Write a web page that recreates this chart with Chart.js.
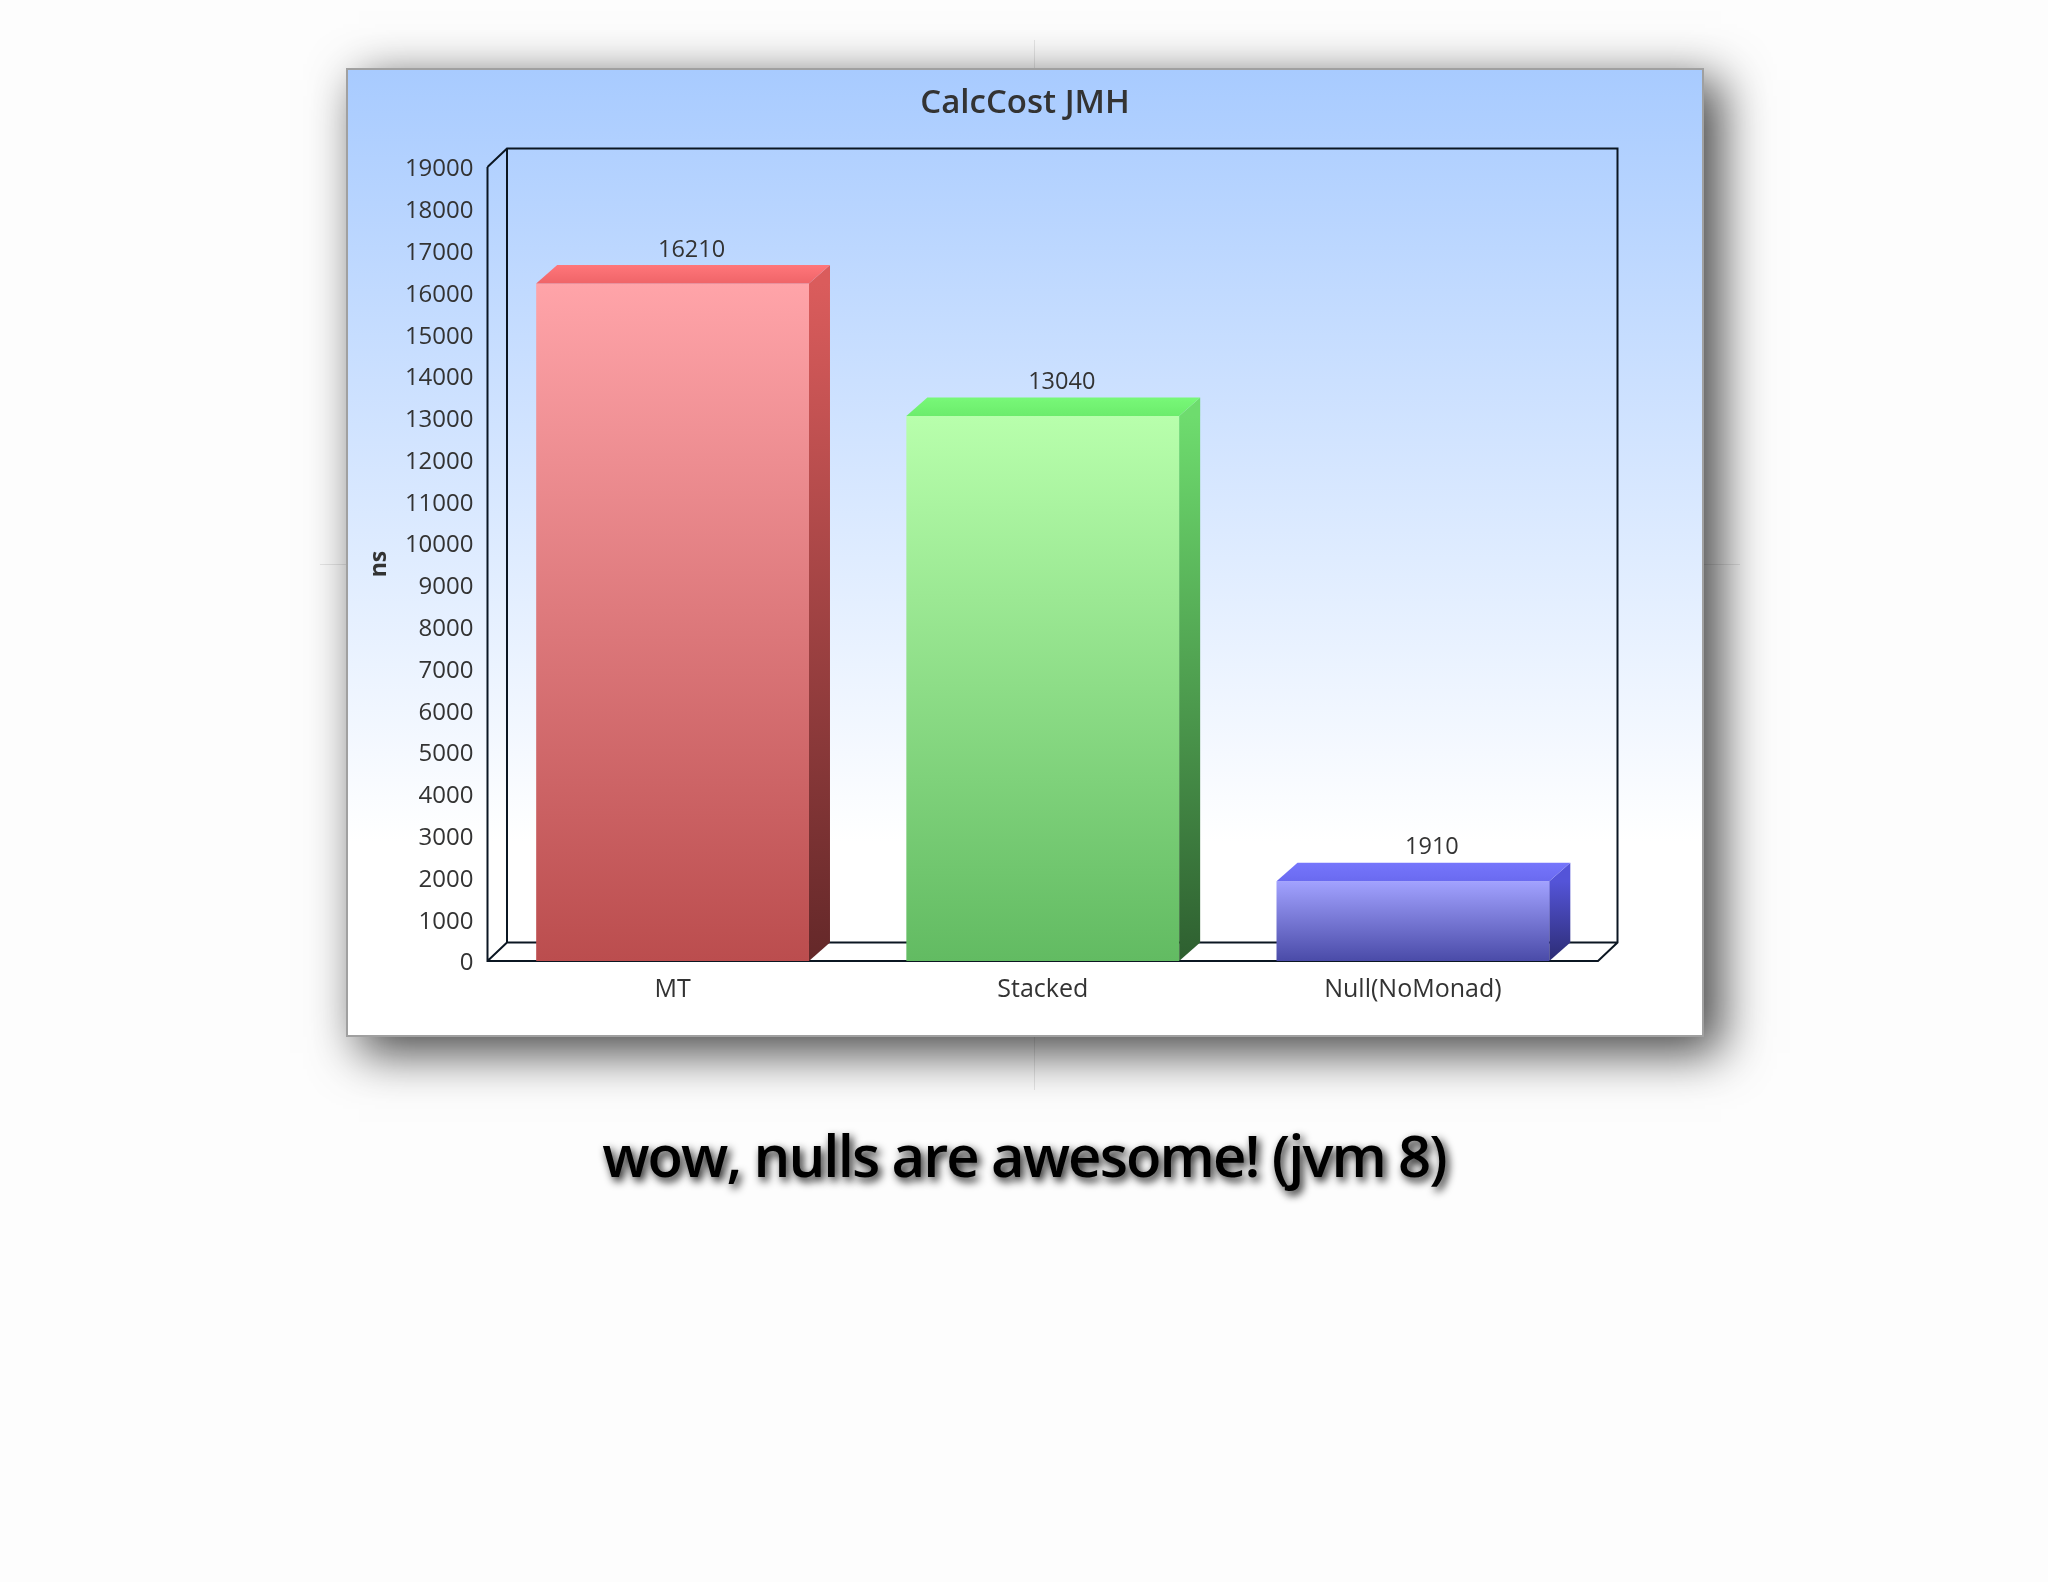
<!DOCTYPE html>
<html lang="en">
<head>
    <meta charset="UTF-8">
    <title>CalcCost JMH</title>
    <script src="https://cdn.jsdelivr.net/npm/chart.js@4.4.0/dist/chart.umd.min.js"></script>
    <style>
        html, body { margin: 0; padding: 0; background: #fdfdfd; width: 2048px; height: 1582px; overflow: hidden; }
        .hair { position: absolute; background: #e6e6e6; }
        #panel {
            position: absolute; left: 346px; top: 68px; width: 1358px; height: 969px; box-sizing: border-box;
            border: 2px solid #a0a0a0;
            background: linear-gradient(to bottom, #a8cbff 0%, #ffffff 80%, #ffffff 100%);
            box-shadow: 15px 14px 46px 2px rgba(0,0,0,.72);
        }
        #chart { position: absolute; left: 346px; top: 68px; }
        #caption {
            position: absolute; left: 0; width: 2048px; top: 1115px; text-align: center;
            font: 600 58px "Open Sans", sans-serif; color: #000; letter-spacing: -1.9px;
            text-shadow: 3px 4px 8px rgba(0,0,0,.95);
        }
    </style>
</head>
<body>
<div class="hair" style="left:1034px;top:40px;width:1px;height:1050px"></div>
<div class="hair" style="left:320px;top:564px;width:1420px;height:1px"></div>
<div id="panel"></div>
<canvas id="chart" width="1358" height="968"></canvas>
<div id="caption">wow, nulls are awesome! (jvm 8)</div>

<script>
    const categories = ['MT', 'Stacked', 'Null(NoMonad)'];
    const costs = [16210, 13040, 1910];
    const yMax = 19000;
    const yStep = 1000;

    const frontTop = ['#ffa4a9', '#b8ffac', '#a2a2ff'];
    const frontBottom = ['#bb4d4e', '#62bb62', '#4a4ba8'];
    const topBack = ['#ff767a', '#78f878', '#7676fc'];
    const topFront = ['#ef6468', '#6cec6c', '#6a6af0'];
    const sideTop = ['#da5c5c', '#6edc6e', '#5454d8'];
    const sideBottom = ['#642829', '#2e5f30', '#2c2c74'];

    const depthX = 21;
    const depthY = 18.5;
    const textColor = '#333';
    const fontName = '"Open Sans", sans-serif';

    function gradient(c, y0, y1, a, b) {
        const g = c.createLinearGradient(0, y0, 0, y1);
        g.addColorStop(0, a);
        g.addColorStop(1, b);
        return g;
    }

    function poly(c, pts, fill) {
        c.beginPath();
        pts.forEach((p, i) => i ? c.lineTo(p[0], p[1]) : c.moveTo(p[0], p[1]));
        c.closePath();
        c.fillStyle = fill;
        c.fill();
    }

    // the walls behind the bars
    const wallPlugin = {
        id: 'walls',
        beforeDatasetsDraw(chart) {
            const c = chart.ctx;
            const a = chart.chartArea;
            const wallX = depthX - 1.5;
            c.save();
            c.strokeStyle = '#0b1622';
            c.lineWidth = 2;
            c.beginPath();
            c.moveTo(a.left, a.top);
            c.lineTo(a.left, a.bottom);
            c.lineTo(a.right, a.bottom);
            c.lineTo(a.right + wallX, a.bottom - depthY);
            c.lineTo(a.right + wallX, a.top - depthY);
            c.lineTo(a.left + wallX, a.top - depthY);
            c.lineTo(a.left, a.top);
            c.moveTo(a.left + wallX, a.top - depthY);
            c.lineTo(a.left + wallX, a.bottom - depthY);
            c.lineTo(a.right + wallX, a.bottom - depthY);
            c.moveTo(a.left + wallX, a.bottom - depthY);
            c.lineTo(a.left, a.bottom);
            c.stroke();
            c.restore();
        }
    };

    // top and side face of each bar, value above it
    const facePlugin = {
        id: 'faces',
        afterDatasetsDraw(chart) {
            const c = chart.ctx;
            chart.getDatasetMeta(0).data.forEach((bar, i) => {
                const left = bar.x - bar.width / 2;
                const right = bar.x + bar.width / 2;
                const y = bar.y;
                const base = bar.base;
                poly(c, [[right, base], [right + depthX, base - depthY], [right + depthX, y - depthY], [right, y]],
                    gradient(c, y, base, sideTop[i], sideBottom[i]));
                poly(c, [[left, y], [left + depthX, y - depthY], [right + depthX, y - depthY], [right, y]],
                    gradient(c, y - depthY, y, topBack[i], topFront[i]));
                c.fillStyle = textColor;
                c.font = '23.5px ' + fontName;
                c.textAlign = 'center';
                c.textBaseline = 'middle';
                c.fillText(costs[i], bar.x + 19, y - depthY - 15);
            });
        }
    };

    new Chart(document.getElementById('chart'), {
        type: 'bar',
        plugins: [wallPlugin, facePlugin],
        data: {
            labels: categories,
            datasets: [{
                data: costs,
                categoryPercentage: 1,
                barPercentage: 0.737,
                backgroundColor: ctx => {
                    const i = ctx.dataIndex;
                    if (!ctx.chart.chartArea || i === undefined) return frontTop[0];
                    const y = ctx.chart.scales.y;
                    return gradient(ctx.chart.ctx, y.getPixelForValue(costs[i]), y.getPixelForValue(0), frontTop[i], frontBottom[i]);
                }
            }]
        },
        options: {
            responsive: false,
            animation: false,
            devicePixelRatio: 1,
            layout: { padding: 0 },
            plugins: {
                legend: { display: false },
                tooltip: { enabled: false },
                title: {
                    display: true,
                    text: 'CalcCost JMH',
                    color: '#333',
                    font: { family: fontName, size: 33, weight: '600', lineHeight: 1.2 },
                    padding: { top: 16, bottom: 43.4 }
                }
            },
            scales: {
                x: {
                    grid: { display: false },
                    border: { display: false },
                    ticks: { color: textColor, padding: 6, font: { family: fontName, size: 25 } },
                    afterFit(s) { s.height = 75; }
                },
                y: {
                    min: 0,
                    max: yMax,
                    grid: { display: false, drawTicks: false },
                    border: { display: false },
                    title: {
                        display: true,
                        text: 'ns',
                        color: '#333',
                        padding: { top: 20, bottom: 0 },
                        font: { family: fontName, size: 23, weight: '700', lineHeight: 1.2 }
                    },
                    ticks: {
                        stepSize: yStep,
                        autoSkip: false,
                        color: textColor,
                        padding: 14,
                        labelOffset: 2.5,
                        font: { family: fontName, size: 24 },
                        callback: v => String(v)
                    },
                    afterFit(s) { s.width = 141.5; }
                },
                // empty axis, only keeps the room right of the plot
                spacer: {
                    position: 'right',
                    grid: { display: false, drawTicks: false },
                    border: { display: false },
                    ticks: { display: false },
                    afterFit(s) { s.width = 106; }
                }
            }
        }
    });
</script>
</body>
</html>
